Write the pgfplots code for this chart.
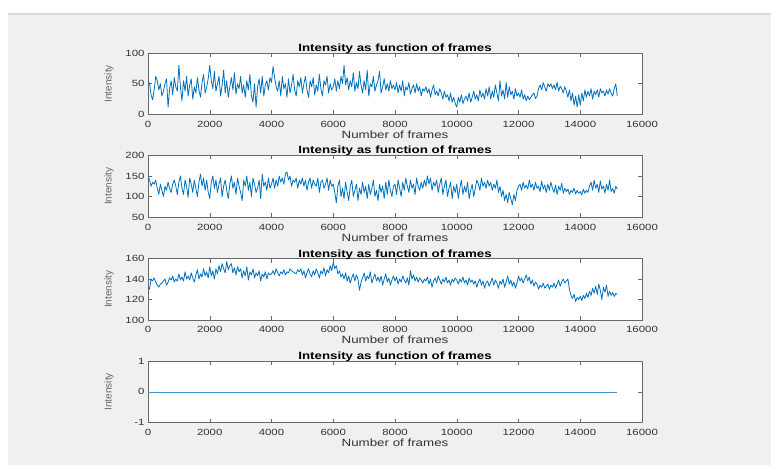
\documentclass[border=0pt]{standalone}
\usepackage{pgfplots}
\usepackage{pgfplotstable}
\pgfplotsset{compat=1.18}
\usepackage{fontspec}
\setmainfont{Liberation Sans}
\newfontfamily\wide[FakeStretch=1.27]{Liberation Sans}

\definecolor{mlblue}{RGB}{0,114,189}
\definecolor{figbg}{RGB}{240,240,240}
\definecolor{axgray}{RGB}{105,105,105}

% mean intensity per frame, one value every 50 frames (0 ... 15200)
\pgfplotstableread[row sep=\\]{
v\\
55\\ 50\\ 32\\ 24\\ 40\\ 62\\ 55\\ 40\\ 50\\ 30\\ 38\\ 50\\ 58\\ 12\\ 42\\ 55\\ 32\\ 60\\ 45\\ 38\\
80\\ 45\\ 22\\ 55\\ 38\\ 62\\ 30\\ 48\\ 58\\ 25\\ 45\\ 35\\ 60\\ 40\\ 28\\ 52\\ 65\\ 35\\ 45\\ 58\\
80\\ 55\\ 42\\ 70\\ 38\\ 50\\ 62\\ 30\\ 48\\ 72\\ 35\\ 55\\ 28\\ 45\\ 60\\ 40\\ 68\\ 33\\ 50\\ 42\\
62\\ 35\\ 48\\ 28\\ 55\\ 40\\ 65\\ 30\\ 20\\ 50\\ 12\\ 45\\ 58\\ 35\\ 62\\ 30\\ 48\\ 55\\ 40\\ 60\\
52\\ 78\\ 60\\ 45\\ 38\\ 55\\ 30\\ 62\\ 42\\ 50\\ 28\\ 58\\ 35\\ 48\\ 65\\ 40\\ 30\\ 55\\ 45\\ 60\\
35\\ 50\\ 62\\ 40\\ 28\\ 55\\ 45\\ 60\\ 32\\ 48\\ 38\\ 65\\ 42\\ 30\\ 55\\ 48\\ 62\\ 35\\ 50\\ 40\\
45\\ 58\\ 38\\ 55\\ 42\\ 62\\ 50\\ 80\\ 48\\ 60\\ 40\\ 55\\ 45\\ 68\\ 38\\ 52\\ 42\\ 70\\ 48\\ 35\\
55\\ 40\\ 72\\ 30\\ 50\\ 45\\ 62\\ 38\\ 48\\ 55\\ 70\\ 35\\ 45\\ 58\\ 40\\ 50\\ 38\\ 55\\ 42\\ 48\\
40\\ 52\\ 35\\ 48\\ 38\\ 55\\ 30\\ 45\\ 40\\ 52\\ 33\\ 42\\ 48\\ 35\\ 50\\ 38\\ 45\\ 30\\ 42\\ 38\\
45\\ 35\\ 42\\ 28\\ 40\\ 48\\ 32\\ 38\\ 30\\ 42\\ 35\\ 25\\ 38\\ 28\\ 32\\ 22\\ 35\\ 20\\ 28\\ 18\\
12\\ 28\\ 20\\ 32\\ 18\\ 25\\ 30\\ 22\\ 35\\ 20\\ 28\\ 38\\ 25\\ 32\\ 22\\ 40\\ 28\\ 35\\ 25\\ 42\\
30\\ 45\\ 25\\ 38\\ 28\\ 48\\ 35\\ 22\\ 55\\ 30\\ 40\\ 25\\ 52\\ 28\\ 45\\ 32\\ 38\\ 25\\ 42\\ 30\\
35\\ 28\\ 40\\ 25\\ 32\\ 22\\ 30\\ 24\\ 28\\ 32\\ 35\\ 26\\ 30\\ 42\\ 48\\ 40\\ 52\\ 45\\ 38\\ 50\\
45\\ 50\\ 42\\ 48\\ 40\\ 52\\ 38\\ 46\\ 42\\ 35\\ 45\\ 38\\ 28\\ 40\\ 22\\ 35\\ 15\\ 30\\ 12\\ 32\\
15\\ 35\\ 22\\ 40\\ 28\\ 38\\ 30\\ 42\\ 25\\ 38\\ 32\\ 40\\ 28\\ 42\\ 35\\ 38\\ 30\\ 40\\ 33\\ 42\\
35\\ 30\\ 42\\ 50\\ 30\\
}\seriesA

\pgfplotstableread[row sep=\\]{
v\\
150\\ 140\\ 125\\ 135\\ 130\\ 140\\ 120\\ 105\\ 130\\ 115\\ 100\\ 125\\ 115\\ 135\\ 120\\ 110\\ 130\\ 140\\ 125\\ 105\\
135\\ 150\\ 120\\ 105\\ 140\\ 125\\ 98\\ 145\\ 130\\ 110\\ 140\\ 120\\ 100\\ 135\\ 155\\ 125\\ 145\\ 115\\ 140\\ 110\\
95\\ 135\\ 150\\ 120\\ 140\\ 110\\ 130\\ 145\\ 100\\ 125\\ 140\\ 115\\ 95\\ 130\\ 150\\ 120\\ 135\\ 105\\ 145\\ 125\\
110\\ 90\\ 140\\ 125\\ 150\\ 115\\ 135\\ 100\\ 145\\ 130\\ 110\\ 120\\ 140\\ 95\\ 155\\ 125\\ 135\\ 115\\ 145\\ 120\\
130\\ 145\\ 120\\ 140\\ 125\\ 150\\ 135\\ 145\\ 130\\ 155\\ 160\\ 140\\ 150\\ 125\\ 140\\ 135\\ 145\\ 120\\ 140\\ 130\\
145\\ 125\\ 140\\ 115\\ 135\\ 145\\ 120\\ 140\\ 130\\ 125\\ 145\\ 110\\ 135\\ 140\\ 120\\ 130\\ 145\\ 115\\ 140\\ 125\\
130\\ 110\\ 85\\ 125\\ 140\\ 100\\ 120\\ 95\\ 135\\ 110\\ 90\\ 125\\ 140\\ 100\\ 115\\ 130\\ 90\\ 120\\ 105\\ 135\\
110\\ 125\\ 95\\ 130\\ 105\\ 120\\ 140\\ 100\\ 115\\ 90\\ 130\\ 110\\ 125\\ 95\\ 135\\ 105\\ 140\\ 115\\ 100\\ 125\\
130\\ 105\\ 140\\ 120\\ 100\\ 135\\ 115\\ 145\\ 125\\ 110\\ 140\\ 120\\ 130\\ 105\\ 145\\ 125\\ 115\\ 135\\ 120\\ 140\\
125\\ 150\\ 130\\ 145\\ 115\\ 135\\ 125\\ 140\\ 110\\ 130\\ 145\\ 105\\ 125\\ 140\\ 100\\ 120\\ 135\\ 95\\ 125\\ 110\\
130\\ 95\\ 120\\ 140\\ 105\\ 125\\ 110\\ 135\\ 95\\ 115\\ 130\\ 100\\ 120\\ 140\\ 130\\ 115\\ 145\\ 125\\ 135\\ 120\\
140\\ 125\\ 135\\ 115\\ 130\\ 120\\ 140\\ 110\\ 125\\ 100\\ 115\\ 90\\ 105\\ 85\\ 110\\ 95\\ 80\\ 105\\ 90\\ 115\\
125\\ 130\\ 115\\ 135\\ 120\\ 128\\ 118\\ 140\\ 122\\ 130\\ 115\\ 135\\ 120\\ 125\\ 112\\ 138\\ 118\\ 128\\ 110\\ 130\\
115\\ 135\\ 120\\ 110\\ 128\\ 105\\ 125\\ 115\\ 132\\ 108\\ 120\\ 112\\ 118\\ 105\\ 115\\ 110\\ 120\\ 106\\ 115\\ 108\\
112\\ 104\\ 118\\ 108\\ 115\\ 110\\ 125\\ 135\\ 115\\ 140\\ 120\\ 130\\ 110\\ 138\\ 118\\ 125\\ 108\\ 130\\ 115\\ 140\\
112\\ 120\\ 108\\ 125\\ 118\\
}\seriesB

\pgfplotstableread[row sep=\\]{
v\\
132\\ 130\\ 140\\ 138\\ 141\\ 137\\ 134\\ 132\\ 135\\ 136\\ 138\\ 140\\ 134\\ 137\\ 141\\ 139\\ 143\\ 137\\ 140\\ 138\\
145\\ 139\\ 142\\ 138\\ 147\\ 140\\ 143\\ 139\\ 146\\ 141\\ 137\\ 144\\ 149\\ 140\\ 145\\ 142\\ 150\\ 143\\ 147\\ 141\\
152\\ 143\\ 148\\ 140\\ 150\\ 145\\ 153\\ 147\\ 155\\ 150\\ 146\\ 157\\ 149\\ 153\\ 155\\ 146\\ 151\\ 144\\ 152\\ 147\\
150\\ 141\\ 148\\ 143\\ 152\\ 139\\ 147\\ 144\\ 150\\ 141\\ 146\\ 143\\ 148\\ 138\\ 145\\ 142\\ 147\\ 140\\ 146\\ 144\\
145\\ 148\\ 144\\ 150\\ 146\\ 143\\ 147\\ 145\\ 149\\ 144\\ 147\\ 146\\ 150\\ 148\\ 147\\ 146\\ 145\\ 149\\ 147\\ 150\\
144\\ 148\\ 141\\ 146\\ 150\\ 145\\ 142\\ 148\\ 144\\ 150\\ 146\\ 141\\ 148\\ 145\\ 151\\ 143\\ 149\\ 146\\ 153\\ 148\\
156\\ 150\\ 153\\ 145\\ 148\\ 142\\ 145\\ 140\\ 146\\ 138\\ 143\\ 136\\ 141\\ 145\\ 138\\ 144\\ 140\\ 129\\ 137\\ 141\\
146\\ 138\\ 143\\ 140\\ 147\\ 136\\ 141\\ 145\\ 138\\ 142\\ 137\\ 143\\ 134\\ 140\\ 145\\ 137\\ 141\\ 134\\ 139\\ 143\\
138\\ 142\\ 135\\ 140\\ 137\\ 143\\ 139\\ 136\\ 141\\ 134\\ 148\\ 140\\ 144\\ 138\\ 142\\ 137\\ 141\\ 139\\ 136\\ 140\\
138\\ 142\\ 135\\ 140\\ 132\\ 138\\ 141\\ 136\\ 143\\ 139\\ 135\\ 140\\ 137\\ 142\\ 136\\ 139\\ 134\\ 140\\ 137\\ 141\\
139\\ 135\\ 140\\ 137\\ 142\\ 136\\ 139\\ 134\\ 141\\ 137\\ 139\\ 135\\ 138\\ 132\\ 137\\ 140\\ 134\\ 138\\ 131\\ 136\\
138\\ 133\\ 137\\ 141\\ 134\\ 139\\ 136\\ 131\\ 138\\ 135\\ 140\\ 132\\ 137\\ 143\\ 135\\ 139\\ 133\\ 137\\ 131\\ 136\\
143\\ 138\\ 141\\ 136\\ 140\\ 144\\ 138\\ 142\\ 135\\ 139\\ 133\\ 137\\ 135\\ 130\\ 134\\ 132\\ 136\\ 131\\ 133\\ 135\\
130\\ 134\\ 132\\ 136\\ 131\\ 135\\ 139\\ 133\\ 137\\ 140\\ 136\\ 138\\ 140\\ 130\\ 124\\ 121\\ 125\\ 118\\ 122\\ 120\\
123\\ 119\\ 124\\ 121\\ 126\\ 122\\ 128\\ 124\\ 131\\ 126\\ 133\\ 125\\ 135\\ 129\\ 120\\ 132\\ 127\\ 134\\ 123\\ 128\\
124\\ 127\\ 123\\ 126\\ 125\\
}\seriesC

\pgfplotsset{
  frameplot/.style={
    scale only axis, width=494pt, height=61.5pt,
    anchor=north west,
    xmin=0, xmax=16000, xtick={0,2000,...,16000},
    xtick pos=both, ytick pos=both,
    axis background/.style={fill=white},
    axis line style={axgray, line width=0.5pt},
    tick style={axgray, line width=0.5pt},
    tick align=inside, major tick length=4pt,
    scaled x ticks=false, scaled y ticks=false,
    /pgf/number format/1000 sep={},
    /pgf/number format/assume math mode=true,
    ticklabel style={font=\wide\fontsize{9}{10}\selectfont, text=black!80},
    xticklabel style={anchor=base, yshift=-13pt},
    title={Intensity as function of frames},
    title style={font=\wide\bfseries\fontsize{10.5}{12}\selectfont, text=black,
      at={(0.5,1)}, anchor=base, yshift=-4.5pt},
    xlabel={Number of frames},
    xlabel style={font=\wide\fontsize{10.5}{12}\selectfont, text=black!80,
      at={(0.5,0)}, anchor=base, yshift=-24pt},
    ylabel={Intensity},
    ylabel style={font=\fontsize{10}{11}\selectfont, text=black!60,
      at={(axis description cs:-0.079,0.5)}, anchor=center},
    no markers,
  },
  trace/.style={mlblue, line width=0.8pt, line join=round},
}

\begin{document}
\begin{tikzpicture}
\useasboundingbox (0,0) rectangle (771pt,-465pt);
\fill[white] (0,0) rectangle (771pt,-465pt);
\fill[figbg] (8pt,-14pt) rectangle (771pt,-465pt);
\draw[black!15, line width=1.2pt] (8pt,-14pt) -- (771pt,-14pt);

\begin{axis}[frameplot, at={(148pt,-53pt)}, ymin=0, ymax=100, ytick={0,50,100}]
  \addplot[trace] table[x expr=\coordindex*50, y=v]{\seriesA};
\end{axis}

\begin{axis}[frameplot, at={(148pt,-155.5pt)}, ymin=50, ymax=200, ytick={50,100,150,200}]
  \addplot[trace] table[x expr=\coordindex*50, y=v]{\seriesB};
\end{axis}

\begin{axis}[frameplot, at={(148pt,-258.5pt)}, ymin=100, ymax=160, ytick={100,120,140,160}]
  \addplot[trace] table[x expr=\coordindex*50, y=v]{\seriesC};
\end{axis}

\begin{axis}[frameplot, at={(148pt,-361pt)}, ymin=-1, ymax=1, ytick={-1,0,1}]
  \addplot[mlblue!75, line width=0.5pt] coordinates {(0,0) (15200,0)};
\end{axis}
\end{tikzpicture}
\end{document}
